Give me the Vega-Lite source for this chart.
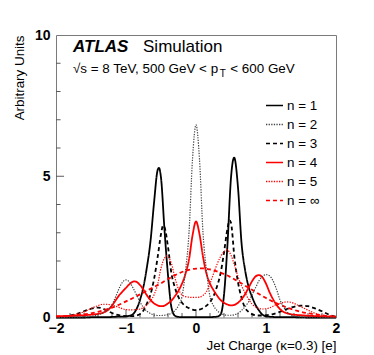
{
 "$schema": "https://vega.github.io/schema/vega-lite/v6.json",
 "autosize": "none",
 "width": 280,
 "height": 282.5,
 "padding": {"left": 56, "top": 35, "right": 38, "bottom": 37.5},
 "background": "white",
 "config": {
  "view": {"stroke": "#7a7a7a", "strokeWidth": 1},
  "font": "Liberation Sans",
  "axis": {"grid": false, "domain": false, "ticks": false, "labelFlush": false, "labelFont": "Liberation Sans", "labelFontWeight": "bold", "labelFontSize": 14, "labelColor": "black", "titleFont": "Liberation Sans", "titleFontWeight": "normal", "titleFontSize": 13.4, "titleColor": "black"},
  "legend": {"orient": "none", "legendX": 209, "legendY": 61, "padding": 0, "symbolType": "stroke", "symbolSize": 289, "symbolStrokeWidth": 1.6, "labelFont": "Liberation Sans", "labelFontSize": 13.4, "labelColor": "black", "labelOffset": 3, "rowPadding": 3}
 },
 "datasets": {
  "curves": [
   {"n":"n = 1","x":-2,"y":0},{"n":"n = 1","x":-1.8,"y":0},{"n":"n = 1","x":-1.6,"y":0},{"n":"n = 1","x":-1.5,"y":0.01},{"n":"n = 1","x":-1.4,"y":0.01},{"n":"n = 1","x":-1.3,"y":0.01},{"n":"n = 1","x":-1.2,"y":0.02},{"n":"n = 1","x":-1.1,"y":0.03},{"n":"n = 1","x":-1.05,"y":0.03},{"n":"n = 1","x":-1,"y":0.04},{"n":"n = 1","x":-0.95,"y":0.06},{"n":"n = 1","x":-0.9,"y":0.12},{"n":"n = 1","x":-0.85,"y":0.3},{"n":"n = 1","x":-0.8,"y":0.62},{"n":"n = 1","x":-0.75,"y":1.1},{"n":"n = 1","x":-0.7,"y":1.8},{"n":"n = 1","x":-0.65,"y":2.7},{"n":"n = 1","x":-0.6,"y":4.05},{"n":"n = 1","x":-0.55,"y":5.2},{"n":"n = 1","x":-0.53,"y":5.3},{"n":"n = 1","x":-0.5,"y":4.95},{"n":"n = 1","x":-0.45,"y":3.1},{"n":"n = 1","x":-0.4,"y":1.5},{"n":"n = 1","x":-0.35,"y":0.35},{"n":"n = 1","x":-0.3,"y":0.06},{"n":"n = 1","x":-0.25,"y":0.02},{"n":"n = 1","x":-0.2,"y":0.01},{"n":"n = 1","x":0,"y":0.01},{"n":"n = 1","x":0.2,"y":0.01},{"n":"n = 1","x":0.25,"y":0.02},{"n":"n = 1","x":0.3,"y":0.03},{"n":"n = 1","x":0.35,"y":0.1},{"n":"n = 1","x":0.4,"y":0.8},{"n":"n = 1","x":0.45,"y":2.6},{"n":"n = 1","x":0.5,"y":4.95},{"n":"n = 1","x":0.545,"y":5.66},{"n":"n = 1","x":0.6,"y":4.6},{"n":"n = 1","x":0.65,"y":2.65},{"n":"n = 1","x":0.7,"y":1.7},{"n":"n = 1","x":0.75,"y":1.1},{"n":"n = 1","x":0.8,"y":0.74},{"n":"n = 1","x":0.85,"y":0.45},{"n":"n = 1","x":0.9,"y":0.25},{"n":"n = 1","x":0.95,"y":0.1},{"n":"n = 1","x":1,"y":0.04},{"n":"n = 1","x":1.1,"y":0.02},{"n":"n = 1","x":1.2,"y":0.01},{"n":"n = 1","x":1.4,"y":0.01},{"n":"n = 1","x":1.6,"y":0},{"n":"n = 1","x":2,"y":0},

   {"n":"n = 2","x":-2,"y":0},{"n":"n = 2","x":-1.8,"y":0.01},{"n":"n = 2","x":-1.6,"y":0.02},{"n":"n = 2","x":-1.5,"y":0.04},{"n":"n = 2","x":-1.45,"y":0.06},{"n":"n = 2","x":-1.4,"y":0.1},{"n":"n = 2","x":-1.35,"y":0.14},{"n":"n = 2","x":-1.3,"y":0.2},{"n":"n = 2","x":-1.25,"y":0.3},{"n":"n = 2","x":-1.2,"y":0.45},{"n":"n = 2","x":-1.15,"y":0.72},{"n":"n = 2","x":-1.1,"y":1.02},{"n":"n = 2","x":-1.05,"y":1.25},{"n":"n = 2","x":-1,"y":1.33},{"n":"n = 2","x":-0.95,"y":1.25},{"n":"n = 2","x":-0.9,"y":1.05},{"n":"n = 2","x":-0.85,"y":0.8},{"n":"n = 2","x":-0.8,"y":0.55},{"n":"n = 2","x":-0.75,"y":0.35},{"n":"n = 2","x":-0.7,"y":0.22},{"n":"n = 2","x":-0.65,"y":0.14},{"n":"n = 2","x":-0.6,"y":0.09},{"n":"n = 2","x":-0.55,"y":0.07},{"n":"n = 2","x":-0.5,"y":0.07},{"n":"n = 2","x":-0.45,"y":0.08},{"n":"n = 2","x":-0.4,"y":0.1},{"n":"n = 2","x":-0.35,"y":0.15},{"n":"n = 2","x":-0.3,"y":0.25},{"n":"n = 2","x":-0.25,"y":0.42},{"n":"n = 2","x":-0.2,"y":0.74},{"n":"n = 2","x":-0.15,"y":1.65},{"n":"n = 2","x":-0.1,"y":3.0},{"n":"n = 2","x":-0.05,"y":5.6},{"n":"n = 2","x":0,"y":6.82},{"n":"n = 2","x":0.05,"y":5.6},{"n":"n = 2","x":0.1,"y":3.0},{"n":"n = 2","x":0.15,"y":1.65},{"n":"n = 2","x":0.2,"y":0.74},{"n":"n = 2","x":0.25,"y":0.42},{"n":"n = 2","x":0.3,"y":0.25},{"n":"n = 2","x":0.35,"y":0.15},{"n":"n = 2","x":0.4,"y":0.1},{"n":"n = 2","x":0.45,"y":0.08},{"n":"n = 2","x":0.5,"y":0.08},{"n":"n = 2","x":0.55,"y":0.1},{"n":"n = 2","x":0.6,"y":0.15},{"n":"n = 2","x":0.65,"y":0.25},{"n":"n = 2","x":0.7,"y":0.38},{"n":"n = 2","x":0.75,"y":0.55},{"n":"n = 2","x":0.8,"y":0.8},{"n":"n = 2","x":0.85,"y":1.05},{"n":"n = 2","x":0.9,"y":1.3},{"n":"n = 2","x":0.95,"y":1.45},{"n":"n = 2","x":1,"y":1.52},{"n":"n = 2","x":1.05,"y":1.48},{"n":"n = 2","x":1.1,"y":1.3},{"n":"n = 2","x":1.15,"y":1.0},{"n":"n = 2","x":1.2,"y":0.62},{"n":"n = 2","x":1.25,"y":0.38},{"n":"n = 2","x":1.3,"y":0.2},{"n":"n = 2","x":1.35,"y":0.1},{"n":"n = 2","x":1.4,"y":0.05},{"n":"n = 2","x":1.5,"y":0.02},{"n":"n = 2","x":1.7,"y":0.01},{"n":"n = 2","x":2,"y":0},

   {"n":"n = 3","x":-2,"y":0.01},{"n":"n = 3","x":-1.9,"y":0.03},{"n":"n = 3","x":-1.8,"y":0.07},{"n":"n = 3","x":-1.7,"y":0.13},{"n":"n = 3","x":-1.6,"y":0.22},{"n":"n = 3","x":-1.5,"y":0.31},{"n":"n = 3","x":-1.45,"y":0.34},{"n":"n = 3","x":-1.4,"y":0.35},{"n":"n = 3","x":-1.35,"y":0.33},{"n":"n = 3","x":-1.3,"y":0.28},{"n":"n = 3","x":-1.25,"y":0.22},{"n":"n = 3","x":-1.2,"y":0.16},{"n":"n = 3","x":-1.1,"y":0.08},{"n":"n = 3","x":-1,"y":0.05},{"n":"n = 3","x":-0.9,"y":0.05},{"n":"n = 3","x":-0.85,"y":0.07},{"n":"n = 3","x":-0.8,"y":0.12},{"n":"n = 3","x":-0.75,"y":0.25},{"n":"n = 3","x":-0.7,"y":0.5},{"n":"n = 3","x":-0.65,"y":0.82},{"n":"n = 3","x":-0.6,"y":1.35},{"n":"n = 3","x":-0.55,"y":2.1},{"n":"n = 3","x":-0.5,"y":2.95},{"n":"n = 3","x":-0.47,"y":3.26},{"n":"n = 3","x":-0.45,"y":3.2},{"n":"n = 3","x":-0.4,"y":2.5},{"n":"n = 3","x":-0.35,"y":1.55},{"n":"n = 3","x":-0.3,"y":1.05},{"n":"n = 3","x":-0.25,"y":0.72},{"n":"n = 3","x":-0.2,"y":0.52},{"n":"n = 3","x":-0.15,"y":0.4},{"n":"n = 3","x":-0.1,"y":0.33},{"n":"n = 3","x":-0.05,"y":0.28},{"n":"n = 3","x":0,"y":0.26},{"n":"n = 3","x":0.05,"y":0.28},{"n":"n = 3","x":0.1,"y":0.33},{"n":"n = 3","x":0.15,"y":0.42},{"n":"n = 3","x":0.2,"y":0.55},{"n":"n = 3","x":0.25,"y":0.75},{"n":"n = 3","x":0.3,"y":1.1},{"n":"n = 3","x":0.35,"y":1.55},{"n":"n = 3","x":0.4,"y":2.3},{"n":"n = 3","x":0.45,"y":3.15},{"n":"n = 3","x":0.48,"y":3.44},{"n":"n = 3","x":0.5,"y":3.35},{"n":"n = 3","x":0.55,"y":2.1},{"n":"n = 3","x":0.6,"y":1.25},{"n":"n = 3","x":0.65,"y":0.7},{"n":"n = 3","x":0.7,"y":0.35},{"n":"n = 3","x":0.75,"y":0.2},{"n":"n = 3","x":0.8,"y":0.12},{"n":"n = 3","x":0.85,"y":0.08},{"n":"n = 3","x":0.9,"y":0.07},{"n":"n = 3","x":1,"y":0.08},{"n":"n = 3","x":1.1,"y":0.12},{"n":"n = 3","x":1.2,"y":0.2},{"n":"n = 3","x":1.3,"y":0.3},{"n":"n = 3","x":1.4,"y":0.38},{"n":"n = 3","x":1.5,"y":0.42},{"n":"n = 3","x":1.6,"y":0.4},{"n":"n = 3","x":1.7,"y":0.32},{"n":"n = 3","x":1.8,"y":0.22},{"n":"n = 3","x":1.9,"y":0.1},{"n":"n = 3","x":2,"y":0.03},

   {"n":"n = 4","x":-2,"y":0.05},{"n":"n = 4","x":-1.9,"y":0.05},{"n":"n = 4","x":-1.8,"y":0.06},{"n":"n = 4","x":-1.7,"y":0.07},{"n":"n = 4","x":-1.6,"y":0.08},{"n":"n = 4","x":-1.5,"y":0.1},{"n":"n = 4","x":-1.4,"y":0.13},{"n":"n = 4","x":-1.3,"y":0.2},{"n":"n = 4","x":-1.25,"y":0.28},{"n":"n = 4","x":-1.2,"y":0.42},{"n":"n = 4","x":-1.15,"y":0.6},{"n":"n = 4","x":-1.1,"y":0.78},{"n":"n = 4","x":-1.05,"y":0.92},{"n":"n = 4","x":-1,"y":1.05},{"n":"n = 4","x":-0.95,"y":1.18},{"n":"n = 4","x":-0.9,"y":1.27},{"n":"n = 4","x":-0.875,"y":1.28},{"n":"n = 4","x":-0.85,"y":1.26},{"n":"n = 4","x":-0.8,"y":1.15},{"n":"n = 4","x":-0.75,"y":0.98},{"n":"n = 4","x":-0.7,"y":0.78},{"n":"n = 4","x":-0.65,"y":0.62},{"n":"n = 4","x":-0.6,"y":0.5},{"n":"n = 4","x":-0.55,"y":0.43},{"n":"n = 4","x":-0.5,"y":0.4},{"n":"n = 4","x":-0.45,"y":0.42},{"n":"n = 4","x":-0.4,"y":0.5},{"n":"n = 4","x":-0.35,"y":0.6},{"n":"n = 4","x":-0.3,"y":0.76},{"n":"n = 4","x":-0.25,"y":0.95},{"n":"n = 4","x":-0.2,"y":1.2},{"n":"n = 4","x":-0.15,"y":1.55},{"n":"n = 4","x":-0.1,"y":2.05},{"n":"n = 4","x":-0.05,"y":2.9},{"n":"n = 4","x":0,"y":3.4},{"n":"n = 4","x":0.05,"y":2.95},{"n":"n = 4","x":0.1,"y":2.15},{"n":"n = 4","x":0.15,"y":1.55},{"n":"n = 4","x":0.2,"y":1.2},{"n":"n = 4","x":0.25,"y":0.97},{"n":"n = 4","x":0.3,"y":0.78},{"n":"n = 4","x":0.35,"y":0.62},{"n":"n = 4","x":0.4,"y":0.52},{"n":"n = 4","x":0.45,"y":0.46},{"n":"n = 4","x":0.5,"y":0.43},{"n":"n = 4","x":0.55,"y":0.45},{"n":"n = 4","x":0.6,"y":0.52},{"n":"n = 4","x":0.65,"y":0.65},{"n":"n = 4","x":0.7,"y":0.82},{"n":"n = 4","x":0.75,"y":1.05},{"n":"n = 4","x":0.8,"y":1.28},{"n":"n = 4","x":0.85,"y":1.45},{"n":"n = 4","x":0.9,"y":1.5},{"n":"n = 4","x":0.95,"y":1.42},{"n":"n = 4","x":1,"y":1.2},{"n":"n = 4","x":1.05,"y":0.9},{"n":"n = 4","x":1.1,"y":0.65},{"n":"n = 4","x":1.15,"y":0.45},{"n":"n = 4","x":1.2,"y":0.3},{"n":"n = 4","x":1.25,"y":0.2},{"n":"n = 4","x":1.3,"y":0.15},{"n":"n = 4","x":1.4,"y":0.1},{"n":"n = 4","x":1.5,"y":0.08},{"n":"n = 4","x":1.6,"y":0.06},{"n":"n = 4","x":1.7,"y":0.05},{"n":"n = 4","x":1.8,"y":0.04},{"n":"n = 4","x":1.9,"y":0.03},{"n":"n = 4","x":2,"y":0.03},

   {"n":"n = 5","x":-2,"y":0.03},{"n":"n = 5","x":-1.9,"y":0.04},{"n":"n = 5","x":-1.8,"y":0.07},{"n":"n = 5","x":-1.7,"y":0.12},{"n":"n = 5","x":-1.6,"y":0.2},{"n":"n = 5","x":-1.5,"y":0.32},{"n":"n = 5","x":-1.4,"y":0.42},{"n":"n = 5","x":-1.35,"y":0.46},{"n":"n = 5","x":-1.3,"y":0.47},{"n":"n = 5","x":-1.25,"y":0.46},{"n":"n = 5","x":-1.2,"y":0.44},{"n":"n = 5","x":-1.15,"y":0.4},{"n":"n = 5","x":-1.1,"y":0.36},{"n":"n = 5","x":-1.05,"y":0.31},{"n":"n = 5","x":-1,"y":0.28},{"n":"n = 5","x":-0.95,"y":0.27},{"n":"n = 5","x":-0.9,"y":0.27},{"n":"n = 5","x":-0.85,"y":0.28},{"n":"n = 5","x":-0.8,"y":0.3},{"n":"n = 5","x":-0.75,"y":0.35},{"n":"n = 5","x":-0.7,"y":0.45},{"n":"n = 5","x":-0.65,"y":0.58},{"n":"n = 5","x":-0.6,"y":0.8},{"n":"n = 5","x":-0.55,"y":1.15},{"n":"n = 5","x":-0.5,"y":1.75},{"n":"n = 5","x":-0.45,"y":2.1},{"n":"n = 5","x":-0.42,"y":2.18},{"n":"n = 5","x":-0.4,"y":2.15},{"n":"n = 5","x":-0.35,"y":1.9},{"n":"n = 5","x":-0.3,"y":1.4},{"n":"n = 5","x":-0.25,"y":1.0},{"n":"n = 5","x":-0.2,"y":0.8},{"n":"n = 5","x":-0.15,"y":0.74},{"n":"n = 5","x":-0.1,"y":0.72},{"n":"n = 5","x":-0.05,"y":0.71},{"n":"n = 5","x":0,"y":0.71},{"n":"n = 5","x":0.05,"y":0.72},{"n":"n = 5","x":0.1,"y":0.78},{"n":"n = 5","x":0.15,"y":0.92},{"n":"n = 5","x":0.2,"y":1.2},{"n":"n = 5","x":0.25,"y":1.55},{"n":"n = 5","x":0.3,"y":1.88},{"n":"n = 5","x":0.35,"y":2.15},{"n":"n = 5","x":0.4,"y":2.33},{"n":"n = 5","x":0.44,"y":2.4},{"n":"n = 5","x":0.45,"y":2.39},{"n":"n = 5","x":0.5,"y":2.2},{"n":"n = 5","x":0.55,"y":1.85},{"n":"n = 5","x":0.6,"y":1.45},{"n":"n = 5","x":0.65,"y":1.12},{"n":"n = 5","x":0.7,"y":0.88},{"n":"n = 5","x":0.75,"y":0.65},{"n":"n = 5","x":0.8,"y":0.48},{"n":"n = 5","x":0.85,"y":0.38},{"n":"n = 5","x":0.9,"y":0.32},{"n":"n = 5","x":0.95,"y":0.3},{"n":"n = 5","x":1,"y":0.31},{"n":"n = 5","x":1.05,"y":0.34},{"n":"n = 5","x":1.1,"y":0.4},{"n":"n = 5","x":1.15,"y":0.46},{"n":"n = 5","x":1.2,"y":0.5},{"n":"n = 5","x":1.25,"y":0.54},{"n":"n = 5","x":1.3,"y":0.55},{"n":"n = 5","x":1.35,"y":0.54},{"n":"n = 5","x":1.4,"y":0.5},{"n":"n = 5","x":1.5,"y":0.38},{"n":"n = 5","x":1.6,"y":0.26},{"n":"n = 5","x":1.7,"y":0.15},{"n":"n = 5","x":1.8,"y":0.08},{"n":"n = 5","x":1.9,"y":0.04},{"n":"n = 5","x":2,"y":0.02},

   {"n":"n = ∞","x":-2,"y":0.03},{"n":"n = ∞","x":-1.9,"y":0.04},{"n":"n = ∞","x":-1.8,"y":0.05},{"n":"n = ∞","x":-1.7,"y":0.08},{"n":"n = ∞","x":-1.6,"y":0.11},{"n":"n = ∞","x":-1.5,"y":0.15},{"n":"n = ∞","x":-1.4,"y":0.2},{"n":"n = ∞","x":-1.3,"y":0.27},{"n":"n = ∞","x":-1.2,"y":0.35},{"n":"n = ∞","x":-1.1,"y":0.45},{"n":"n = ∞","x":-1,"y":0.57},{"n":"n = ∞","x":-0.9,"y":0.69},{"n":"n = ∞","x":-0.8,"y":0.82},{"n":"n = ∞","x":-0.7,"y":0.95},{"n":"n = ∞","x":-0.6,"y":1.08},{"n":"n = ∞","x":-0.5,"y":1.21},{"n":"n = ∞","x":-0.4,"y":1.36},{"n":"n = ∞","x":-0.3,"y":1.5},{"n":"n = ∞","x":-0.2,"y":1.61},{"n":"n = ∞","x":-0.1,"y":1.69},{"n":"n = ∞","x":0,"y":1.73},{"n":"n = ∞","x":0.1,"y":1.74},{"n":"n = ∞","x":0.2,"y":1.7},{"n":"n = ∞","x":0.3,"y":1.63},{"n":"n = ∞","x":0.4,"y":1.54},{"n":"n = ∞","x":0.5,"y":1.42},{"n":"n = ∞","x":0.6,"y":1.28},{"n":"n = ∞","x":0.7,"y":1.13},{"n":"n = ∞","x":0.8,"y":0.98},{"n":"n = ∞","x":0.9,"y":0.83},{"n":"n = ∞","x":1,"y":0.69},{"n":"n = ∞","x":1.1,"y":0.56},{"n":"n = ∞","x":1.2,"y":0.45},{"n":"n = ∞","x":1.3,"y":0.35},{"n":"n = ∞","x":1.4,"y":0.27},{"n":"n = ∞","x":1.5,"y":0.2},{"n":"n = ∞","x":1.6,"y":0.15},{"n":"n = ∞","x":1.7,"y":0.11},{"n":"n = ∞","x":1.8,"y":0.08},{"n":"n = ∞","x":1.9,"y":0.05},{"n":"n = ∞","x":2,"y":0.04}
  ],
  "xminor": [{"v":-1.8},{"v":-1.6},{"v":-1.4},{"v":-1.2},{"v":-0.8},{"v":-0.6},{"v":-0.4},{"v":-0.2},{"v":0.2},{"v":0.4},{"v":0.6},{"v":0.8},{"v":1.2},{"v":1.4},{"v":1.6},{"v":1.8}],
  "xmajor": [{"v":-1},{"v":0},{"v":1}],
  "yminor": [{"v":1},{"v":2},{"v":3},{"v":4},{"v":6},{"v":7},{"v":8},{"v":9}],
  "ymajor": [{"v":5}]
 },
 "layer": [
  {
   "data": {"name": "xminor"},
   "mark": {"type": "rule", "color": "#5a5a5a", "strokeWidth": 1},
   "encoding": {"x": {"field": "v", "type": "quantitative", "scale": {"domain": [-2, 2], "nice": false, "zero": false}, "axis": {"orient": "bottom", "values": [-2,-1,0,1,2], "format": "d", "labelPadding": 4, "title": "Jet Charge (κ=0.3) [e]", "titleAnchor": "end", "titleAlign": "right", "titleX": 280, "titleY": 32, "titleBaseline": "alphabetic"}}, "y": {"datum": 0, "scale": {"domain": [0, 10], "nice": false, "zero": false}, "axis": {"orient": "left", "values": [0,5,10], "format": "d", "labelPadding": 6, "title": "Arbitrary Units", "titleAngle": -90, "titleAlign": "right", "titleBaseline": "alphabetic", "titleX": -32.5, "titleY": 0}}, "y2": {"datum": 0.16}}
  },
  {
   "data": {"name": "xmajor"},
   "mark": {"type": "rule", "color": "#5a5a5a", "strokeWidth": 1},
   "encoding": {"x": {"field": "v", "type": "quantitative"}, "y": {"datum": 0}, "y2": {"datum": 0.29}}
  },
  {
   "data": {"name": "yminor"},
   "mark": {"type": "rule", "color": "#5a5a5a", "strokeWidth": 1},
   "encoding": {"y": {"field": "v", "type": "quantitative"}, "x": {"datum": -2}, "x2": {"datum": -1.935}}
  },
  {
   "data": {"name": "ymajor"},
   "mark": {"type": "rule", "color": "#5a5a5a", "strokeWidth": 1},
   "encoding": {"y": {"field": "v", "type": "quantitative"}, "x": {"datum": -2}, "x2": {"datum": -1.885}}
  },
  {
   "data": {"name": "curves"},
   "transform": [{"filter": {"field": "n", "oneOf": ["n = 1", "n = 3", "n = 4", "n = ∞"]}}],
   "mark": {"type": "line", "interpolate": "monotone", "strokeWidth": 1.8},
   "encoding": {
    "x": {"field": "x", "type": "quantitative"},
    "y": {"field": "y", "type": "quantitative"},
    "color": {"field": "n", "type": "nominal", "scale": {"domain": ["n = 1","n = 2","n = 3","n = 4","n = 5","n = ∞"], "range": ["#000000","#444444","#000000","#ff0000","#ff0000","#ff0000"]}, "legend": {"title": null}},
    "strokeDash": {"field": "n", "type": "nominal", "scale": {"domain": ["n = 1","n = 2","n = 3","n = 4","n = 5","n = ∞"], "range": [[1,0],[1.3,1.3],[4,3],[1,0],[1.3,1.3],[4,3]]}, "legend": {"title": null}}
   }
  },
  {
   "data": {"name": "curves"},
   "transform": [{"filter": {"field": "n", "oneOf": ["n = 2", "n = 5"]}}],
   "mark": {"type": "line", "interpolate": "monotone", "strokeWidth": 1.2},
   "encoding": {
    "x": {"field": "x", "type": "quantitative"},
    "y": {"field": "y", "type": "quantitative"},
    "color": {"field": "n", "type": "nominal", "legend": {"title": null}},
    "strokeDash": {"field": "n", "type": "nominal", "legend": {"title": null}}
   }
  },
  {
   "data": {"values": [{"label": "ATLAS", "x": -1.757, "y": 9.4}]},
   "mark": {"type": "text", "font": "Liberation Sans", "fontStyle": "italic", "fontWeight": "bold", "fontSize": 17, "align": "left", "baseline": "alphabetic", "color": "black"},
   "encoding": {"x": {"field": "x", "type": "quantitative"}, "y": {"field": "y", "type": "quantitative"}, "text": {"field": "label"}}
  },
  {
   "data": {"values": [{"label": "Simulation", "x": -0.757, "y": 9.4}]},
   "mark": {"type": "text", "font": "Liberation Sans", "fontSize": 17, "align": "left", "baseline": "alphabetic", "color": "black"},
   "encoding": {"x": {"field": "x", "type": "quantitative"}, "y": {"field": "y", "type": "quantitative"}, "text": {"field": "label"}}
  },
  {
   "data": {"values": [{"label": "√s = 8 TeV, 500 GeV < p", "x": -1.757, "y": 8.66}, {"label": "< 600 GeV", "x": 0.49, "y": 8.66}]},
   "mark": {"type": "text", "font": "Liberation Sans", "fontSize": 13.4, "align": "left", "baseline": "alphabetic", "color": "black"},
   "encoding": {"x": {"field": "x", "type": "quantitative"}, "y": {"field": "y", "type": "quantitative"}, "text": {"field": "label"}}
  },
  {
   "data": {"values": [{"label": "T", "x": 0.34, "y": 8.52}]},
   "mark": {"type": "text", "font": "Liberation Sans", "fontSize": 10, "align": "left", "baseline": "alphabetic", "color": "black"},
   "encoding": {"x": {"field": "x", "type": "quantitative"}, "y": {"field": "y", "type": "quantitative"}, "text": {"field": "label"}}
  }
 ]
}
